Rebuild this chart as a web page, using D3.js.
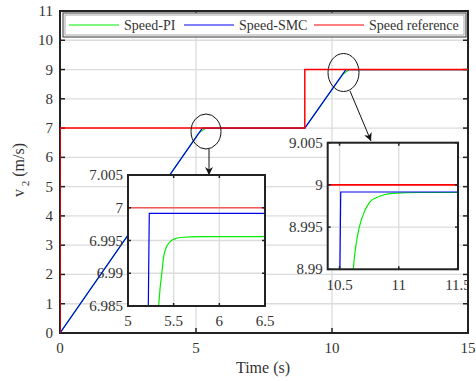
<!DOCTYPE html>
<html>
<head>
<meta charset="utf-8">
<script src="https://cdn.jsdelivr.net/npm/d3@7"></script>
<style>
body { margin: 0; background: #fff; }
text { font-family: "Liberation Serif", "Times New Roman", serif; fill: #333; }
</style>
</head>
<body>
<svg id="chart" width="476" height="381"></svg>
<script>
// series: [time, speed]
var refData = [[0, 0], [0, 7], [9, 7], [9, 9], [15, 9]];
var smcData = [[0, 0], [5.233, 6.99915], [9, 6.99915], [10.51, 8.99916], [15, 8.99916]];
var piData = [[0, 0], [5.1, 6.83], [5.336, 6.985], [5.35, 6.9875], [5.37, 6.990], [5.39, 6.9925],
  [5.42, 6.9940], [5.46, 6.9948], [5.52, 6.9953], [5.6, 6.9955], [5.8, 6.9956], [9, 6.9956],
  [10.4, 8.84], [10.616, 8.990], [10.64, 8.993], [10.667, 8.995], [10.715, 8.997], [10.757, 8.998],
  [10.813, 8.9985], [10.87, 8.9988], [10.95, 8.9990], [11.2, 8.9991], [15, 8.9991]];
var xTicks = [0, 5, 10, 15];
var yTicks = [0, 1, 2, 3, 4, 5, 6, 7, 8, 9, 10, 11];
var in1X = [5, 5.5, 6, 6.5], in1Y = [6.985, 6.99, 6.995, 7, 7.005];
var in2X = [10.5, 11, 11.5], in2Y = [8.99, 8.995, 9, 9.005];
var names = ["Speed-PI", "Speed-SMC", "Speed reference"];
var colors = ["#00ee00", "#0000ee", "#ff0000"];

var svg = d3.select("#chart");
var m = {l: 60, r: 468, t: 11, b: 333};
var x = d3.scaleLinear().domain([0, 15]).range([m.l, m.r]);
var y = d3.scaleLinear().domain([0, 11]).range([m.b, m.t]);
var series = [piData, smcData, refData];

var defs = svg.append("defs");
function clip(id, x0, y0, w, h) {
  defs.append("clipPath").attr("id", id).append("rect")
    .attr("x", x0).attr("y", y0).attr("width", w).attr("height", h);
}
clip("cMain", m.l, m.t, m.r - m.l, m.b - m.t);

// main grid
var g = svg.append("g");
g.selectAll(".gx").data(xTicks).enter().append("line")
  .attr("x1", d => x(d)).attr("x2", d => x(d)).attr("y1", m.t).attr("y2", m.b)
  .attr("stroke", "#dcdcdc").attr("stroke-width", 1.3);
g.selectAll(".gy").data(yTicks).enter().append("line")
  .attr("y1", d => y(d)).attr("y2", d => y(d)).attr("x1", m.l).attr("x2", m.r)
  .attr("stroke", "#dcdcdc").attr("stroke-width", 1.3);

// main frame and ticks
svg.append("rect").attr("x", m.l).attr("y", m.t).attr("width", m.r - m.l).attr("height", m.b - m.t)
  .attr("fill", "none").attr("stroke", "#222").attr("stroke-width", 2);
xTicks.forEach(function(d) {
  svg.append("line").attr("x1", x(d)).attr("x2", x(d)).attr("y1", m.b).attr("y2", m.b - 5).attr("stroke", "#222").attr("stroke-width", 1.5);
  svg.append("line").attr("x1", x(d)).attr("x2", x(d)).attr("y1", m.t).attr("y2", m.t + 5).attr("stroke", "#222").attr("stroke-width", 1.5);
  svg.append("text").attr("x", x(d)).attr("y", 353).attr("text-anchor", "middle").attr("font-size", 15).text(d);
});
yTicks.forEach(function(d) {
  svg.append("line").attr("y1", y(d)).attr("y2", y(d)).attr("x1", m.l).attr("x2", m.l + 5).attr("stroke", "#222").attr("stroke-width", 1.5);
  svg.append("line").attr("y1", y(d)).attr("y2", y(d)).attr("x1", m.r).attr("x2", m.r - 5).attr("stroke", "#222").attr("stroke-width", 1.5);
  svg.append("text").attr("x", 53).attr("y", y(d) + 5).attr("text-anchor", "end").attr("font-size", 15).text(d);
});

// main lines
var line = d3.line().x(d => x(d[0])).y(d => y(d[1]));
var gl = svg.append("g").attr("clip-path", "url(#cMain)");
series.forEach(function(s, i) {
  gl.append("path").datum(s).attr("d", line).attr("fill", "none")
    .attr("stroke", colors[i]).attr("stroke-width", i == 2 ? 1.5 : 1.2);
});

// axis titles
svg.append("text").attr("x", 263).attr("y", 373).attr("text-anchor", "middle").attr("font-size", 16).text("Time (s)");
var yl = svg.append("text").attr("transform", "translate(24,170) rotate(-90)")
  .attr("text-anchor", "middle").attr("font-size", 16);
yl.append("tspan").text("v");
yl.append("tspan").attr("font-size", 11).attr("dy", 5).text(" 2");
yl.append("tspan").attr("dy", -5).text(" (m/s)");

// legend
svg.append("rect").attr("x", 63).attr("y", 13).attr("width", 403).attr("height", 24)
  .attr("fill", "#fff").attr("stroke", "#555").attr("stroke-width", 1.2);
svg.append("rect").attr("x", 65).attr("y", 15).attr("width", 399).attr("height", 20)
  .attr("fill", "none").attr("stroke", "#aaa").attr("stroke-width", 1);
var legX = [69, 184, 314];
names.forEach(function(n, i) {
  svg.append("line").attr("x1", legX[i]).attr("x2", legX[i] + 50).attr("y1", 25).attr("y2", 25)
    .attr("stroke", colors[i]).attr("stroke-width", 1);
  svg.append("text").attr("x", legX[i] + 55).attr("y", 30).attr("font-size", 14).text(n);
});

// zoom markers
defs.append("marker").attr("id", "arr").attr("viewBox", "0 0 10 10").attr("refX", 10).attr("refY", 5)
  .attr("markerWidth", 8).attr("markerHeight", 8).attr("orient", "auto")
  .append("path").attr("d", "M0,0 L10,5 L0,10 L3,5 Z").attr("fill", "#111");
svg.append("ellipse").attr("cx", 206).attr("cy", 131.5).attr("rx", 15).attr("ry", 17.5)
  .attr("fill", "none").attr("stroke", "#111").attr("stroke-width", 1);
svg.append("line").attr("x1", 209).attr("y1", 149).attr("x2", 209).attr("y2", 175)
  .attr("stroke", "#111").attr("marker-end", "url(#arr)");
svg.append("ellipse").attr("cx", 343.5).attr("cy", 72.5).attr("rx", 15.5).attr("ry", 19)
  .attr("fill", "none").attr("stroke", "#111").attr("stroke-width", 1);
svg.append("line").attr("x1", 350).attr("y1", 91).attr("x2", 371).attr("y2", 141)
  .attr("stroke", "#111").attr("marker-end", "url(#arr)");

// insets
function inset(id, box, xd, yd, xt, yt, labY, refOp) {
  var sx = d3.scaleLinear().domain(xd).range([box[0], box[2]]);
  var sy = d3.scaleLinear().domain(yd).range([box[3], box[1]]);
  clip(id, box[0], box[1], box[2] - box[0], box[3] - box[1]);
  var ig = svg.append("g");
  ig.append("rect").attr("x", box[0]).attr("y", box[1]).attr("width", box[2] - box[0]).attr("height", box[3] - box[1]).attr("fill", "#fff");
  var inner = ig.append("g").attr("clip-path", "url(#" + id + ")");
  xt.forEach(function(d) {
    inner.append("line").attr("x1", sx(d)).attr("x2", sx(d)).attr("y1", box[1]).attr("y2", box[3]).attr("stroke", "#dcdcdc").attr("stroke-width", 1.3);
  });
  yt.forEach(function(d) {
    inner.append("line").attr("y1", sy(d)).attr("y2", sy(d)).attr("x1", box[0]).attr("x2", box[2]).attr("stroke", "#dcdcdc").attr("stroke-width", 1.3);
  });
  var il = d3.line().x(d => sx(d[0])).y(d => sy(d[1])).curve(d3.curveMonotoneX);
  series.forEach(function(s, i) {
    inner.append("path").datum(s).attr("d", i == 0 ? il : d3.line().x(d => sx(d[0])).y(d => sy(d[1])))
      .attr("fill", "none").attr("stroke", colors[i]).attr("stroke-width", i == 2 ? 1.6 : 1.2).attr("opacity", i == 2 ? refOp : 1);
  });
  ig.append("rect").attr("x", box[0]).attr("y", box[1]).attr("width", box[2] - box[0]).attr("height", box[3] - box[1])
    .attr("fill", "none").attr("stroke", "#222").attr("stroke-width", 2);
  xt.forEach(function(d) {
    ig.append("line").attr("x1", sx(d)).attr("x2", sx(d)).attr("y1", box[3]).attr("y2", box[3] - 3).attr("stroke", "#222").attr("stroke-width", 1.5);
    ig.append("line").attr("x1", sx(d)).attr("x2", sx(d)).attr("y1", box[1]).attr("y2", box[1] + 3).attr("stroke", "#222").attr("stroke-width", 1.5);
  });
  yt.forEach(function(d) {
    ig.append("line").attr("y1", sy(d)).attr("y2", sy(d)).attr("x1", box[0]).attr("x2", box[0] + 3).attr("stroke", "#222").attr("stroke-width", 1.5);
    ig.append("line").attr("y1", sy(d)).attr("y2", sy(d)).attr("x1", box[2]).attr("x2", box[2] - 3).attr("stroke", "#222").attr("stroke-width", 1.5);
  });
  var tl = svg.append("g").attr("clip-path", "url(#cTxt)");
  xt.forEach(function(d) {
    tl.append("text").attr("x", sx(d)).attr("y", labY).attr("text-anchor", "middle").attr("font-size", 15).text(d);
  });
  yt.forEach(function(d) {
    svg.append("text").attr("x", box[0] - 5).attr("y", sy(d) + 5).attr("text-anchor", "end").attr("font-size", 15).text(d);
  });
}
clip("cTxt", 0, 0, m.r, 381);
inset("cIn1", [128, 175, 265, 306], [5, 6.5], [6.985, 7.005], in1X, in1Y, 326, 0.6);
inset("cIn2", [327.7, 142.7, 458, 269.3], [10.4, 11.5], [8.99, 9.005], in2X, in2Y, 290, 1);
</script>
</body>
</html>
